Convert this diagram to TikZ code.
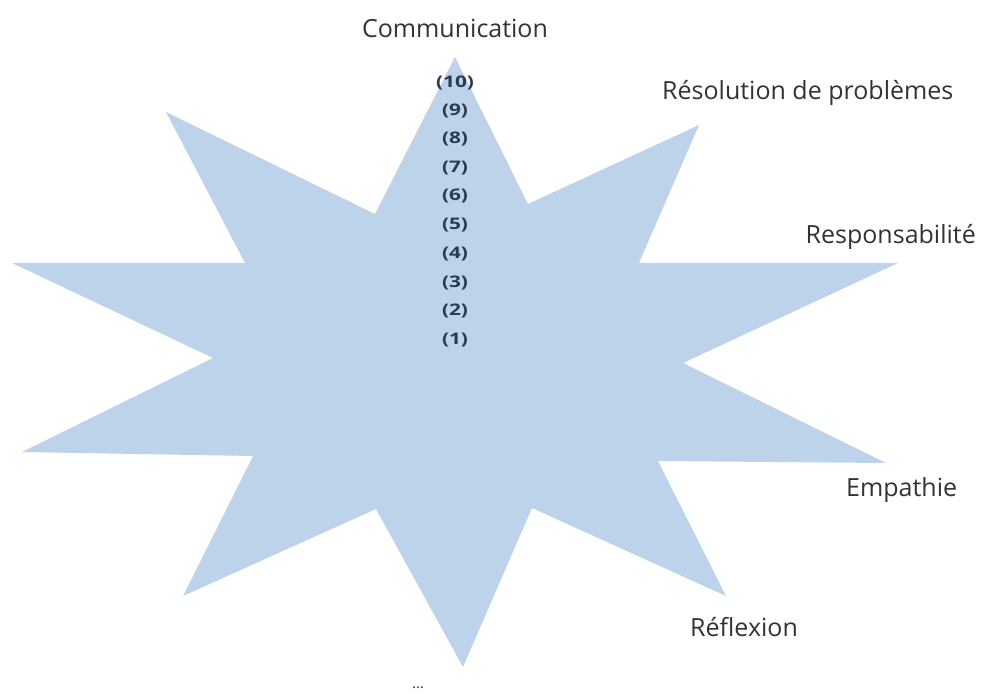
\documentclass[tikz,border=0pt]{standalone}
\usepackage{fontspec}
\setmainfont{Open Sans}
\definecolor{starblue}{RGB}{189,211,234}
\definecolor{numcol}{RGB}{45,58,85}
\begin{document}
\begin{tikzpicture}[x=1pt,y=-1pt,
  lab/.style={font=\fontsize{25}{29}\selectfont, text=black!80, inner sep=0pt},
  num/.style={font=\fontsize{16}{18}\selectfont\bfseries, text=numcol, inner sep=0pt}]
\useasboundingbox (0,0) rectangle (982,697);
% star vertices
\coordinate (t1) at (455,57);
\coordinate (i1) at (528,204);
\coordinate (t2) at (699,125);
\coordinate (i2) at (639,263);
\coordinate (t3) at (898,263);
\coordinate (i3) at (683,363);
\coordinate (t4) at (886,463);
\coordinate (i4) at (658,461);
\coordinate (t5) at (726,596);
\coordinate (i5) at (532,508);
\coordinate (t6) at (463,667);
\coordinate (i6) at (376,509);
\coordinate (t7) at (183,596);
\coordinate (i7) at (253,456);
\coordinate (t8) at (22,452);
\coordinate (i8) at (213,358);
\coordinate (t9) at (12,263);
\coordinate (i9) at (245,263);
\coordinate (t10) at (166,112);
\coordinate (i10) at (375,214);
\fill[starblue] (t1) -- (i1) -- (t2) -- (i2) -- (t3) -- (i3) -- (t4) -- (i4) -- (t5) -- (i5)
  -- (t6) -- (i6) -- (t7) -- (i7) -- (t8) -- (i8) -- (t9) -- (i9) -- (t10) -- (i10) -- cycle;
% labels
\node[lab] (comm) at (455,28) {Communication};
\node[lab, anchor=west] (reso) at (662,93) {Résolution de problèmes};
\node[lab, anchor=east] (resp) at (976,237) {Responsabilité};
\node[lab, anchor=west] (emp) at (846,490) {Empathie};
\node[lab, anchor=west] (refl) at (690,627) {Réflexion};
\node[lab, font=\fontsize{15}{17}\selectfont] (dots) at (418,688) {...};
% scale numbers
\foreach \k/\y in {10/83,9/111,8/139,7/168,6/196,5/225,4/254,3/283,2/311,1/340}
  \node[num] (n\k) at (455,\y) {\scalebox{1.3}[1]{(\k)}};
\end{tikzpicture}
\end{document}
